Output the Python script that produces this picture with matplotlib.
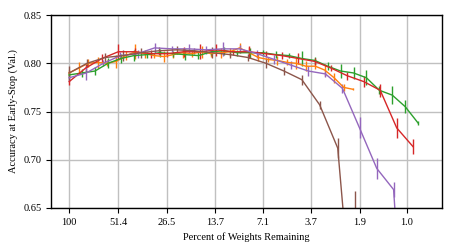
import matplotlib
matplotlib.use("Agg")
import matplotlib.pyplot as plt
from matplotlib.ticker import FixedLocator, NullLocator

# Percent of weights remaining at each pruning round, per run
orange_x = [100, 87.91, 77.28, 67.93, 59.72, 52.49, 46.13, 40.52, 35.62, 31.31,
            27.52, 24.18, 21.26, 18.69, 16.42, 14.43, 12.69, 11.15, 9.80, 8.61,
            7.57, 6.65, 5.85, 5.14, 4.52, 3.97, 3.49, 3.07, 2.70, 2.37, 2.08]
orange_y = [0.790, 0.795, 0.800, 0.801, 0.800, 0.802, 0.808, 0.812, 0.810, 0.808,
            0.807, 0.809, 0.811, 0.810, 0.812, 0.810, 0.811, 0.812, 0.816, 0.811,
            0.806, 0.804, 0.803, 0.801, 0.800, 0.797, 0.797, 0.793, 0.785, 0.775,
            0.773]
orange_err = [0.003, 0.006, 0.004, 0.006, 0.003, 0.007, 0.005, 0.008, 0.004, 0.003,
              0.006, 0.003, 0.005, 0.003, 0.006, 0.003, 0.005, 0.004, 0.005, 0.006,
              0.004, 0.003, 0.005, 0.003, 0.006, 0.005, 0.003, 0.006, 0.005, 0.004,
              0.001]

green_x = [100, 83.84, 70.30, 58.94, 49.42, 41.43, 34.74, 29.13, 24.42, 20.48,
           17.17, 14.40, 12.07, 10.12, 8.486, 7.115, 5.965, 5.002, 4.194, 3.516,
           2.948, 2.472, 2.072, 1.738, 1.457, 1.222, 1.024, 0.859]
green_y = [0.788, 0.790, 0.792, 0.800, 0.805, 0.808, 0.809, 0.811, 0.810, 0.809,
           0.808, 0.812, 0.813, 0.811, 0.811, 0.811, 0.809, 0.808, 0.805, 0.803,
           0.797, 0.792, 0.790, 0.785, 0.772, 0.767, 0.755, 0.738]
green_err = [0.003, 0.004, 0.004, 0.005, 0.005, 0.006, 0.003, 0.004, 0.003, 0.006,
             0.004, 0.003, 0.004, 0.003, 0.005, 0.003, 0.004, 0.003, 0.008, 0.004,
             0.004, 0.007, 0.006, 0.008, 0.004, 0.009, 0.007, 0.002]

red_x = [100, 80, 64, 51.2, 40.96, 32.77, 26.21, 20.97, 16.78, 13.42, 10.74,
         8.59, 6.87, 5.50, 4.40, 3.52, 2.81, 2.25, 1.80, 1.44, 1.15, 0.92]
red_y = [0.781, 0.795, 0.805, 0.812, 0.812, 0.810, 0.810, 0.812, 0.812, 0.814, 0.812,
         0.812, 0.810, 0.808, 0.805, 0.802, 0.795, 0.787, 0.781, 0.772, 0.733, 0.7135]
red_err = [0.003, 0.004, 0.005, 0.008, 0.004, 0.004, 0.003, 0.005, 0.008, 0.006, 0.003,
           0.006, 0.003, 0.004, 0.006, 0.004, 0.003, 0.004, 0.006, 0.007, 0.010, 0.008]

purple_x = [100, 79.22, 62.76, 49.72, 39.39, 31.20, 24.72, 19.58, 15.51, 12.29,
            9.74, 7.71, 6.11, 4.84, 3.84, 3.04, 2.41, 1.91, 1.51, 1.20, 0.95]
purple_y = [0.785, 0.790, 0.800, 0.808, 0.810, 0.816, 0.815, 0.815, 0.814, 0.815,
            0.815, 0.810, 0.804, 0.798, 0.792, 0.789, 0.774, 0.733, 0.691, 0.669,
            0.400]
purple_err = [0.003, 0.007, 0.003, 0.004, 0.004, 0.005, 0.003, 0.005, 0.004, 0.007,
              0.004, 0.004, 0.005, 0.004, 0.005, 0.003, 0.005, 0.011, 0.011, 0.008,
              0.050]

brown_x = [100, 78.35, 61.39, 48.10, 37.68, 29.52, 23.13, 18.12, 14.20, 11.13,
           8.72, 6.83, 5.35, 4.19, 3.29, 2.57, 2.02]
brown_y = [0.790, 0.800, 0.806, 0.808, 0.811, 0.813, 0.814, 0.813, 0.811, 0.809,
           0.806, 0.800, 0.792, 0.783, 0.757, 0.712, 0.500]
brown_err = [0.007, 0.004, 0.005, 0.006, 0.005, 0.004, 0.004, 0.003, 0.006, 0.003,
             0.004, 0.005, 0.004, 0.005, 0.004, 0.010, 0.168]

x_ticks = [100, 51.4, 26.5, 13.7, 7.1, 3.7, 1.9, 1.0]
x_tick_labels = ["100", "51.4", "26.5", "13.7", "7.1", "3.7", "1.9", "1.0"]
y_ticks = [0.65, 0.70, 0.75, 0.80, 0.85]

plt.rcParams["font.family"] = ["Liberation Serif", "DejaVu Serif"]

fig = plt.figure(figsize=(4.57, 2.52), dpi=100)
ax = fig.add_axes([0.112, 0.175, 0.855, 0.765])

series = [
    (orange_x, orange_y, orange_err, "#ff7f0e"),
    (green_x, green_y, green_err, "#2ca02c"),
    (red_x, red_y, red_err, "#d62728"),
    (purple_x, purple_y, purple_err, "#9467bd"),
    (brown_x, brown_y, brown_err, "#8c564b"),
]
for xs, ys, es, c in series:
    ax.errorbar(xs, ys, yerr=es, color=c, lw=1.0, elinewidth=1.0, capsize=0)

ax.set_xscale("log")
ax.set_xlim(127.8, 0.621)
ax.set_ylim(0.65, 0.85)
ax.xaxis.set_major_locator(FixedLocator(x_ticks))
ax.xaxis.set_minor_locator(NullLocator())
ax.set_xticklabels(x_tick_labels)
ax.set_yticks(y_ticks)
ax.set_yticklabels([f"{v:.2f}" for v in y_ticks])

ax.grid(True, color="#c0c0c0", lw=1.0)
ax.set_axisbelow(True)
for s in ax.spines.values():
    s.set_color("black")
    s.set_linewidth(1.0)
ax.tick_params(axis="both", labelsize=7.5, length=3.5, width=0.8, direction="out")

ax.set_xlabel("Percent of Weights Remaining", fontsize=7.5)
ax.set_ylabel("Accuracy at Early-Stop (Val.)", fontsize=7.5)

fig.savefig("out.png", dpi=100)
